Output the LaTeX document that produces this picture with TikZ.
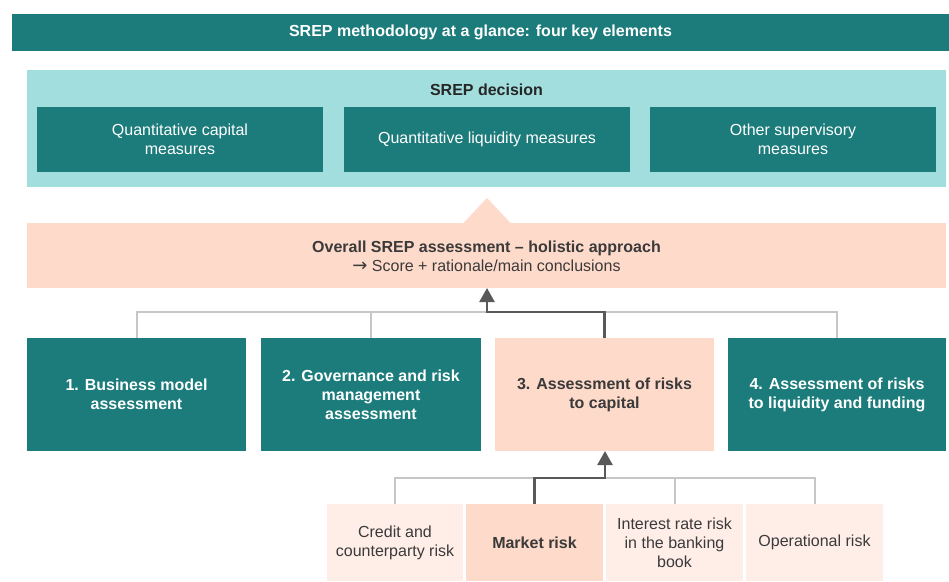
\documentclass[tikz,border=0pt]{standalone}
\usepackage{fontspec}
\setmainfont{Liberation Sans}
\newfontfamily\dejavu{DejaVu Sans}
\usetikzlibrary{arrows.meta}
\definecolor{dteal}{HTML}{1C7B7B}
\definecolor{lteal}{HTML}{A2DEDE}
\definecolor{peach}{HTML}{FEDACA}
\definecolor{lpeach}{HTML}{FFEEE8}
\definecolor{lgray}{HTML}{C6C6C6}
\definecolor{dgray}{HTML}{595959}
\definecolor{txt}{HTML}{3A3A3A}
\begin{document}
\begin{tikzpicture}[x=1pt,y=-1pt,
  box/.style={inner sep=0pt,outer sep=0pt,align=center,font=\fontsize{16}{19}\selectfont},
  bbox/.style={font=\fontsize{16}{19}\selectfont\bfseries},
  tealbox/.style={box,fill=dteal,text=white},
  peachbox/.style={box,fill=peach,text=txt},
  lpeachbox/.style={box,fill=lpeach,text=txt},
  gline/.style={draw=lgray,line width=2pt},
  dline/.style={draw=dgray,line width=2.5pt},
  arr/.style={-{Triangle[width=15pt,length=14pt]}}]
\useasboundingbox (0,0) rectangle (949,581);
% title bar
\node[tealbox,bbox,minimum width=937,minimum height=37] (title) at (480.5,32.5) {SREP methodology at a glance: four key elements};
% SREP decision
\node[box,fill=lteal,minimum width=919,minimum height=117] (dec) at (486.5,128.5) {};
\node[box,bbox,text=black!85] (dect) at (486.5,89.5) {SREP decision};
\node[tealbox,minimum width=286,minimum height=65] (q1) at (180,139.5) {Quantitative capital\\measures};
\node[tealbox,minimum width=286,minimum height=65] (q2) at (487,139.5) {Quantitative liquidity measures};
\node[tealbox,minimum width=286,minimum height=65] (q3) at (793,139.5) {Other supervisory\\measures};
% overall assessment
\fill[peach] (463,223.5) -- (487,198) -- (511,223.5) -- cycle;
\node[peachbox,minimum width=919,minimum height=65] (ov) at (486.5,255.5) {};
\node[box,text=txt] (ovt) at (486.5,256.5) {\textbf{Overall SREP assessment -- holistic approach}\\{\dejavu\fontsize{18}{19}\selectfont →} Score + rationale/main conclusions};
% four elements
\node[tealbox,bbox,minimum width=219,minimum height=113] (e1) at (136.5,394.5) {1. Business model\\assessment};
\node[tealbox,bbox,minimum width=220,minimum height=113] (e2) at (371,394.5) {2. Governance and risk\\management\\assessment};
\node[peachbox,bbox,minimum width=219,minimum height=113] (e3) at (604.5,394.5) {3. Assessment of risks\\to capital};
\node[tealbox,bbox,minimum width=218,minimum height=113] (e4) at (837,394.5) {4. Assessment of risks\\to liquidity and funding};
% risks
\node[lpeachbox,minimum width=136,minimum height=77] (r1) at (395,542.5) {Credit and\\counterparty risk};
\node[peachbox,bbox,minimum width=137,minimum height=77] (r2) at (534.5,542.5) {Market risk};
\node[lpeachbox,minimum width=137,minimum height=77] (r3) at (674.5,542.5) {Interest rate risk\\in the banking\\book};
\node[lpeachbox,minimum width=137,minimum height=77] (r4) at (814.5,542.5) {Operational risk};
% connectors upper
\coordinate (j1) at (487,312);
\draw[gline] (e1.north) |- (j1);
\draw[gline] (e2.north) -- (e2.north |- j1);
\draw[gline] (j1) -| (e4.north);
\draw[dline,arr] (e3.north) |- (j1) -- (j1 |- ov.south);
% connectors lower
\coordinate (j2) at (605,478);
\draw[gline] (r1.north) |- (j2);
\draw[gline] (r3.north) -- (r3.north |- j2);
\draw[gline] (j2) -| (r4.north);
\draw[dline,arr] (r2.north) |- (j2) -- (j2 |- e3.south);
\end{tikzpicture}
\end{document}
